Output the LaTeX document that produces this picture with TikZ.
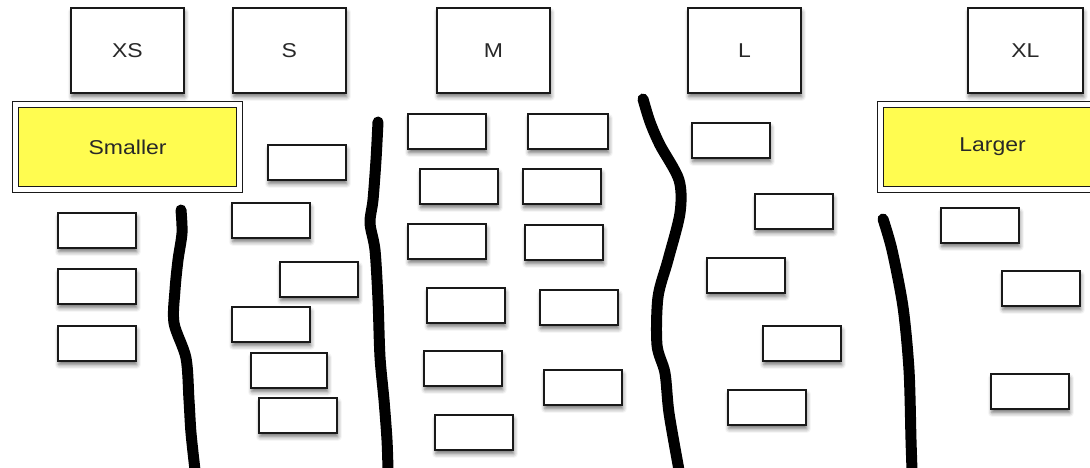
\documentclass[tikz,border=0pt]{standalone}
\usepackage{fontspec}
\newfontfamily\lblfont[FakeStretch=1.15]{Liberation Sans}
\usetikzlibrary{shadows.blur}
\definecolor{stickyyellow}{RGB}{255,252,80}
\definecolor{boxline}{RGB}{25,25,25}
\definecolor{labeltext}{RGB}{40,40,40}
\tikzset{
  card/.style={draw=boxline, line width=1.8pt, fill=white, anchor=north west,
    minimum width=78pt, minimum height=35pt, inner sep=0pt,
    blur shadow={shadow xshift=1pt, shadow yshift=-4pt, shadow blur radius=4pt, shadow opacity=55}},
  sizebox/.style={card, minimum width=113pt, minimum height=85pt,
    font=\lblfont\fontsize{20}{24}\selectfont, text=labeltext},
  groupbox/.style={draw=boxline, line width=1.2pt, double=white, double distance=4.5pt,
    fill=stickyyellow, anchor=north west, minimum width=224pt, minimum height=85pt,
    inner sep=0pt, font=\lblfont\fontsize{20}{24}\selectfont, text=labeltext},
  divider/.style={line width=11pt, line cap=round, line join=round, black}
}
\begin{document}
\begin{tikzpicture}[x=1pt,y=-1pt]
\useasboundingbox (0,0) rectangle (1090,467);
\clip (0,0) rectangle (1090,467);
% size headers
\node[sizebox] (hxs) at (70,7) {XS};
\node[sizebox] (hs) at (232,7) {S};
\node[sizebox] (hm) at (436,7) {M};
\node[sizebox] (hl) at (687,7) {L};
\node[sizebox, minimum width=115pt] (hxl) at (967,7) {XL};
% group labels
\node[groupbox] (smaller) at (15,104) {Smaller};
\node[groupbox] (larger) at (880,104) {Larger};
% XS cards
\node[card] (xs1) at (57,212) {};
\node[card] (xs2) at (57,268) {};
\node[card] (xs3) at (57,325) {};
% S cards
\node[card] (s1) at (267,144) {};
\node[card] (s2) at (231,202) {};
\node[card] (s3) at (279,261) {};
\node[card] (s4) at (231,306) {};
\node[card, minimum width=76pt] (s5) at (250,352) {};
\node[card] (s6) at (258,397) {};
% M cards
\node[card] (m1) at (407,113) {};
\node[card] (m2) at (419,168) {};
\node[card] (m3) at (407,223) {};
\node[card] (m4) at (426,287) {};
\node[card] (m5) at (423,350) {};
\node[card] (m6) at (434,414) {};
\node[card, minimum width=80pt] (m7) at (527,113) {};
\node[card] (m8) at (522,168) {};
\node[card] (m9) at (524,224) {};
\node[card] (m10) at (539,289) {};
\node[card] (m11) at (543,369) {};
% L cards
\node[card] (l1) at (691,122) {};
\node[card] (l2) at (754,193) {};
\node[card] (l3) at (706,257) {};
\node[card] (l4) at (762,325) {};
\node[card] (l5) at (727,389) {};
% XL cards
\node[card] (xl1) at (940,207) {};
\node[card] (xl2) at (1001,270) {};
\node[card] (xl3) at (990,373) {};
% hand-drawn dividers
\draw[divider] plot[smooth, tension=0.5] coordinates {(181,210) (182,233) (178,260) (175,290) (174,323) (186,358) (189,400) (191,433) (195,470)};
\draw[divider] plot[smooth, tension=0.5] coordinates {(378,122) (376,160) (373,200) (370,223) (375,250) (378,300) (380,357) (384,400) (387,440) (388,470)};
\draw[divider] plot[smooth, tension=0.5] coordinates {(643,99) (650,122) (660,145) (679,180) (680,213) (668,260) (658,297) (657,345) (665,373) (669,413) (679,470)};
\draw[divider] plot[smooth, tension=0.5] coordinates {(883,219) (892,250) (903,307) (909,370) (911,440) (912,470)};
\end{tikzpicture}
\end{document}
